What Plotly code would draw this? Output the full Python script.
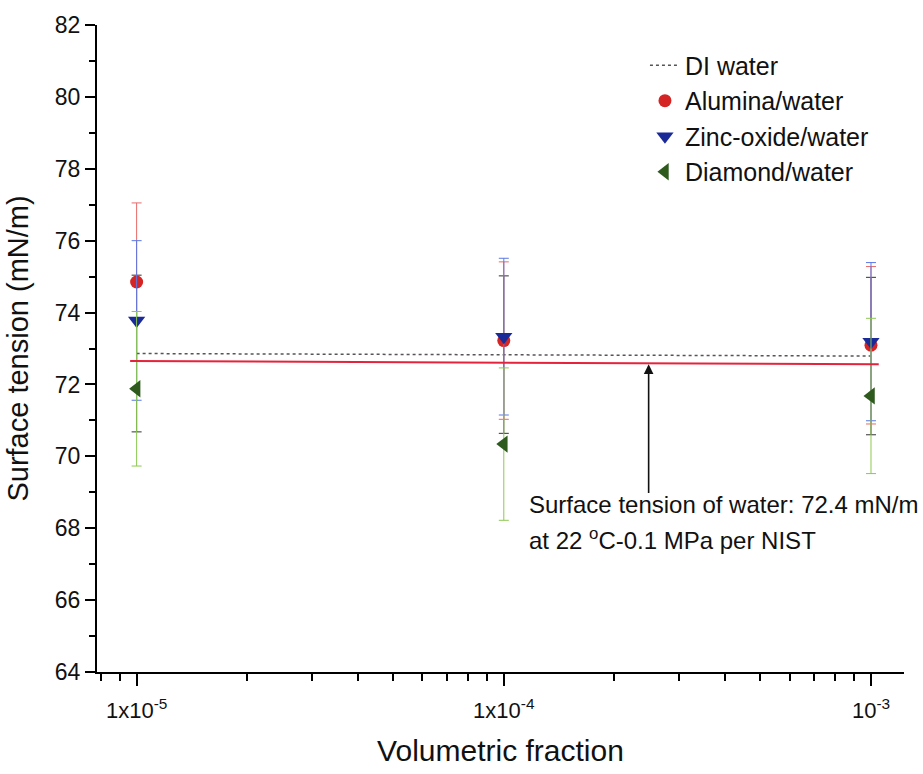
import plotly.graph_objects as go
import numpy as np

# ---- data ----
vol_frac = [1e-5, 1e-4, 1e-3]

di_water = [72.86, 72.83, 72.79]
di_water_err = [2.18, 2.19, 2.19]

alumina = [74.85, 73.22, 73.09]
alumina_err = [2.2, 2.19, 2.19]

zinc_oxide = [73.78, 73.33, 73.19]
zinc_oxide_err = [2.22, 2.18, 2.2]

diamond = [71.88, 70.34, 71.68]
diamond_err = [2.15, 2.12, 2.16]

nist_x = [9.6e-6, 1.05e-3]
nist_y = [72.65, 72.56]

x_tick_vals = [1e-5, 1e-4, 1e-3]
x_tick_text = ["1x10<sup>-5</sup>", "1x10<sup>-4</sup>", "10<sup>-3</sup>"]
x_minor_vals = [8e-6, 9e-6] + [k * 1e-5 for k in range(2, 10)] + [k * 1e-4 for k in range(2, 10)]

FONT = "Liberation Sans, Arial, sans-serif"

fig = go.Figure()

fig.add_trace(go.Scatter(
    x=vol_frac, y=di_water, name="DI water", mode="lines",
    line=dict(color="#555555", width=1.5, dash="dot"),
    error_y=dict(type="data", array=di_water_err, color="#333333", thickness=1, width=5),
))
fig.add_trace(go.Scatter(
    x=vol_frac, y=alumina, name="Alumina/water", mode="markers",
    marker=dict(symbol="circle", size=13, color="#d42424"),
    error_y=dict(type="data", array=alumina_err, color="#e86a6a", thickness=1, width=5),
))
fig.add_trace(go.Scatter(
    x=vol_frac, y=zinc_oxide, name="Zinc-oxide/water", mode="markers",
    marker=dict(symbol="triangle-down", size=15, color="#1a2a96"),
    error_y=dict(type="data", array=zinc_oxide_err, color="#5a78e6", thickness=1, width=5),
))
fig.add_trace(go.Scatter(
    x=vol_frac, y=diamond, name="Diamond/water", mode="markers",
    marker=dict(symbol="triangle-left", size=15, color="#2e5a1e"),
    error_y=dict(type="data", array=diamond_err, color="#8cc850", thickness=1, width=5),
))
fig.add_trace(go.Scatter(
    x=nist_x, y=nist_y, mode="lines", showlegend=False,
    line=dict(color="#e4243c", width=2),
))

fig.update_layout(
    width=923, height=774,
    margin=dict(l=97, r=19, t=20, b=102),
    paper_bgcolor="white", plot_bgcolor="white",
    font=dict(family=FONT, size=20, color="#111111"),
    showlegend=True,
    legend=dict(
        x=0.679, y=0.973, xanchor="left", yanchor="top",
        bgcolor="rgba(0,0,0,0)", font=dict(size=25),
        tracegroupgap=0,
    ),
    xaxis=dict(
        type="log", range=[np.log10(7.8e-6), np.log10(1.23e-3)],
        tickmode="array", tickvals=x_tick_vals, ticktext=x_tick_text,
        ticks="outside", ticklen=12, tickwidth=2, tickcolor="black",
        showline=True, linecolor="black", linewidth=2,
        showgrid=False, zeroline=False,
        tickfont=dict(size=22), ticklabelstandoff=6,
        minor=dict(tickmode="array", tickvals=x_minor_vals, ticks="outside",
                   ticklen=7, tickwidth=1.5, tickcolor="black", showgrid=False),
        title=dict(text="Volumetric fraction", font=dict(size=30), standoff=18),
    ),
    yaxis=dict(
        range=[64, 82], tickmode="linear", tick0=64, dtick=2,
        ticks="outside", ticklen=10, tickwidth=2, tickcolor="black",
        showline=True, linecolor="black", linewidth=2,
        showgrid=False, zeroline=False,
        tickfont=dict(size=23),
        minor=dict(dtick=1, ticks="outside", ticklen=6, tickwidth=1.5,
                   tickcolor="black", showgrid=False),
        title=dict(text="Surface tension (mN/m)", font=dict(size=29), standoff=18),
    ),
)

arrow_x = np.log10(2.48e-4)
fig.add_annotation(
    x=arrow_x, y=72.56, ax=arrow_x, ay=68.94, xref="x", yref="y",
    axref="x", ayref="y", text="", showarrow=True,
    arrowhead=2, arrowsize=1.2, arrowwidth=1.6, arrowcolor="#111111",
)
fig.add_annotation(
    x=(527 - 97) / 807, y=68.67, xref="paper", yref="y",
    text="Surface tension of water: 72.4 mN/m", showarrow=False,
    xanchor="left", yanchor="middle", font=dict(size=24),
)
fig.add_annotation(
    x=(527 - 97) / 807, y=67.7, xref="paper", yref="y",
    text="at 22 <sup>o</sup>C-0.1 MPa per NIST", showarrow=False,
    xanchor="left", yanchor="middle", font=dict(size=24),
)

fig.write_html("out.html")
